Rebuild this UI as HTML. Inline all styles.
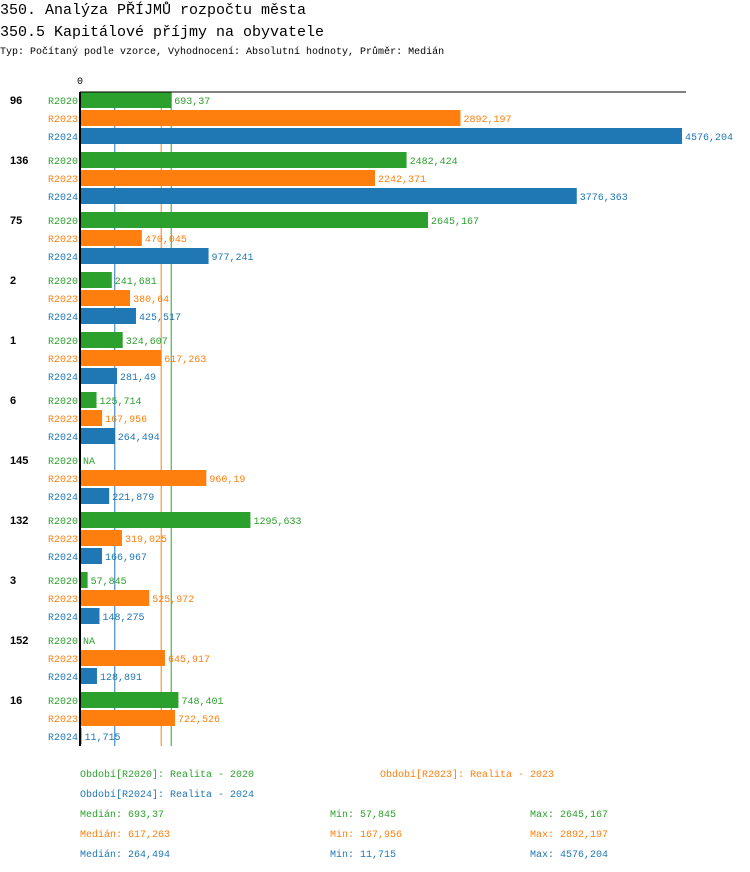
<!DOCTYPE html>
<html><head><meta charset="utf-8">
<style>
body{margin:0;background:#fff;width:750px;height:872px;overflow:hidden}
svg{display:block;font-family:"Liberation Mono",monospace}
</style></head>
<body>
<svg id="chart" width="750" height="872" xmlns="http://www.w3.org/2000/svg">
<text x="0" y="14" font-size="15">350. Analýza PŘÍJMŮ rozpočtu města</text>
<text x="0" y="36" font-size="15">350.5 Kapitálové příjmy na obyvatele</text>
<text x="0" y="54" font-size="10">Typ: Počítaný podle vzorce, Vyhodnocení: Absolutní hodnoty, Průměr: Medián</text>
<g id="plot"></g>
</svg>
<script>
const groups = ["96","136","75","2","1","6","145","132","3","152","16"];
const series = ["R2020","R2023","R2024"];
const v2020 = [693.37,2482.424,2645.167,241.681,324.607,125.714,null,1295.633,57.845,null,748.401];
const v2023 = [2892.197,2242.371,470.045,380.64,617.263,167.956,960.19,319.025,525.972,645.917,722.526];
const v2024 = [4576.204,3776.363,977.241,425.517,281.49,264.494,221.879,166.967,148.275,128.891,11.715];
const medians = [693.37,617.263,264.494];
const mins = [57.845,167.956,11.715];
const maxs = [2645.167,2892.197,4576.204];
const legendNames = ["Období[R2020]: Realita - 2020","Období[R2023]: Realita - 2023","Období[R2024]: Realita - 2024"];
const colors = ["#2ca02c","#ff7f0e","#1f77b4"];
const NS="http://www.w3.org/2000/svg";
const g=document.getElementById('plot');
const x0=80, maxV=4576.204, pxW=602;
const xs=v=>x0+v/maxV*pxW;
const rowY=(gi,si)=>100+gi*60+si*18;
const fmt=v=>String(v).replace('.',',');
function el(t,a,txt){const e=document.createElementNS(NS,t);for(const k in a)e.setAttribute(k,a[k]);if(txt!=null)e.textContent=txt;g.appendChild(e);return e;}
const vals=[v2020,v2023,v2024];
const bottom=rowY(groups.length-1,2)+10;
medians.forEach((m,i)=>{
  const l=el('line',{x1:xs(m),x2:xs(m),y1:92,y2:bottom,stroke:colors[i],'stroke-width':1});
  
  
});
groups.forEach((gn,gi)=>{
  const t=el('text',{x:10,y:rowY(gi,0)+4,'font-size':11,'font-weight':'bold','font-family':'Liberation Sans, sans-serif'},gn);
  
  
  series.forEach((s,si)=>{
    const y=rowY(gi,si);const v=vals[si][gi];
    const l=el('text',{x:78,y:y+4,'font-size':10,'text-anchor':'end',fill:colors[si]},s);
    
    
    let end=x0;
    if(v!=null){
      const r=el('rect',{x:x0,y:y-8,width:xs(v)-x0,height:16,fill:colors[si]});
      
      
      end=xs(v);
    }
    const vt=el('text',{x:end+3,y:y+4,'font-size':10,fill:colors[si]},v==null?'NA':fmt(v));
    
    
  });
});
const ax=el('line',{x1:x0,x2:686,y1:92,y2:92,stroke:'#000','stroke-width':1});


const ay=el('line',{x1:x0,x2:x0,y1:92,y2:bottom,stroke:'#000','stroke-width':2});


const z=el('text',{x:x0,y:84,'font-size':10,'text-anchor':'middle'},'0');


const lp=[[80,777],[380,777],[80,797]];
legendNames.forEach((n,i)=>{
  const t=el('text',{x:lp[i][0],y:lp[i][1],'font-size':10,fill:colors[i]},n);
  
  
});
series.forEach((s,i)=>{
  const y=817+i*20;
  const a=el('text',{x:80,y:y,'font-size':10,fill:colors[i]},'Medián: '+fmt(medians[i]));
  
  
  const b=el('text',{x:330,y:y,'font-size':10,fill:colors[i]},'Min: '+fmt(mins[i]));
  
  
  const c=el('text',{x:530,y:y,'font-size':10,fill:colors[i]},'Max: '+fmt(maxs[i]));
  
  
});
</script>
</body></html>
